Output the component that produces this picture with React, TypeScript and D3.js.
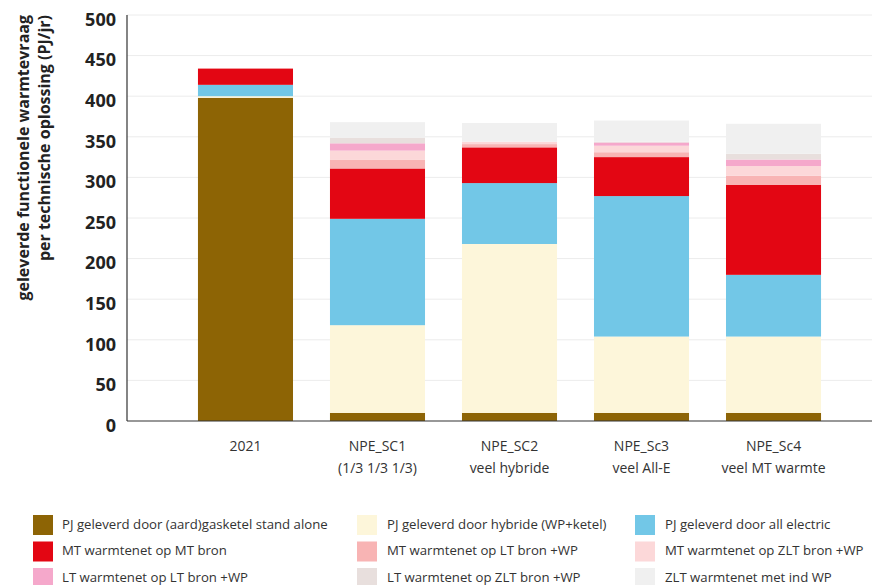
import React from 'react';
import * as d3 from 'd3';

const categories = ['2021', 'NPE_SC1', 'NPE_SC2', 'NPE_Sc3', 'NPE_Sc4'];
const subLabels = ['', '(1/3 1/3 1/3)', 'veel hybride', 'veel All-E', 'veel MT warmte'];

const seriesNames = [
  'PJ geleverd door (aard)gasketel stand alone',
  'PJ geleverd door hybride (WP+ketel)',
  'PJ geleverd door all electric',
  'MT warmtenet op MT bron',
  'MT warmtenet op LT bron +WP',
  'MT warmtenet op ZLT bron +WP',
  'LT warmtenet op LT bron +WP',
  'LT warmtenet op ZLT bron +WP',
  'ZLT warmtenet met ind WP'
];

const seriesColors = [
  '#8d6405',
  '#fdf6da',
  '#72c7e7',
  '#e30613',
  '#f8b4b4',
  '#fcd8d9',
  '#f5a8cb',
  '#e8dfdd',
  '#f0f0f0'
];

// values per series, one value per category
const gasketel = [398, 10, 10, 10, 10];
const hybride = [2, 108, 208, 94, 94];
const allElectric = [14, 131, 75, 173, 76];
const mtMt = [20, 62, 44, 48, 111];
const mtLt = [0, 11, 4, 6, 11];
const mtZlt = [0, 11, 3, 8, 12];
const ltLt = [0, 9, 0, 4, 8];
const ltZlt = [0, 7, 0, 1, 7];
const zlt = [0, 19, 23, 26, 37];

const seriesValues = [gasketel, hybride, allElectric, mtMt, mtLt, mtZlt, ltLt, ltZlt, zlt];

const yTicks = [0, 50, 100, 150, 200, 250, 300, 350, 400, 450, 500];

const App = () => {
  const width = 874;
  const height = 585;
  const axisX = 127;
  const axisRight = 872;

  const x = d3
    .scaleBand()
    .domain(categories)
    .range([161, 858])
    .paddingInner(0.28)
    .paddingOuter(0.28);

  const y = d3.scaleLinear().domain([0, 500]).range([421, 15]);

  const table = categories.map((c, i) => {
    const row: any = { cat: c };
    seriesNames.forEach((s, j) => {
      row[s] = seriesValues[j][i];
    });
    return row;
  });

  const stacked = d3.stack().keys(seriesNames)(table);

  const font = "'Open Sans', sans-serif";

  return (
    <svg width={width} height={height} style={{ position: 'absolute', left: 0, top: 0 }}>
      <rect width={width} height={height} fill="#fff" />
      {yTicks.slice(1).map(t => (
        <line
          key={'g' + t}
          x1={axisX}
          x2={axisRight}
          y1={y(t)}
          y2={y(t)}
          stroke="#ececec"
          strokeWidth={1}
        />
      ))}
      {stacked.map((layer, j) => (
        <g key={layer.key} fill={seriesColors[j]}>
          {layer.map((d, i) =>
            d[1] - d[0] > 0 ? (
              <rect
                key={i}
                x={x(categories[i])}
                y={y(d[1])}
                width={x.bandwidth()}
                height={y(d[0]) - y(d[1])}
              />
            ) : null
          )}
        </g>
      ))}
      <line x1={axisX} x2={axisX} y1={y(500)} y2={y(0)} stroke="#333" strokeWidth={1.2} />
      <line x1={axisX} x2={axisRight} y1={y(0)} y2={y(0)} stroke="#333" strokeWidth={1.2} />
      {yTicks.map(t => (
        <text
          key={'t' + t}
          x={116}
          y={y(t) + 6}
          textAnchor="end"
          dominantBaseline="middle"
          fontFamily={font}
          fontWeight={700}
          fontSize={18}
          fill="#222"
        >
          {t}
        </text>
      ))}
      <g transform="rotate(-90)">
        <text
          x={-15}
          y={29}
          textAnchor="end"
          fontFamily={font}
          fontWeight={700}
          fontSize={16}
          fill="#222"
        >
          geleverde functionele warmtevraag
        </text>
        <text
          x={-15}
          y={50}
          textAnchor="end"
          fontFamily={font}
          fontWeight={700}
          fontSize={16}
          fill="#222"
        >
          per technische oplossing (PJ/jr)
        </text>
      </g>
      {categories.map((c, i) => (
        <text
          key={'x' + c}
          y={451}
          textAnchor="middle"
          fontFamily={font}
          fontSize={14}
          fill="#333"
        >
          <tspan x={x(c) + x.bandwidth() / 2}>{c}</tspan>
          <tspan x={x(c) + x.bandwidth() / 2} dy={22}>
            {subLabels[i]}
          </tspan>
        </text>
      ))}
      {seriesNames.map((s, j) => {
        const col = j % 3;
        const row = Math.floor(j / 3);
        const sx = [33, 357, 635][col];
        const tx = [62, 387, 665][col];
        const cy = 525 + row * 26.5;
        return (
          <g key={'l' + s}>
            <rect x={sx} y={cy - 10} width={20} height={20} fill={seriesColors[j]} />
            <text
              x={tx}
              y={cy}
              dominantBaseline="middle"
              fontFamily={font}
              fontSize={13.2}
              fill="#333"
            >
              {s}
            </text>
          </g>
        );
      })}
    </svg>
  );
};

export default App;
